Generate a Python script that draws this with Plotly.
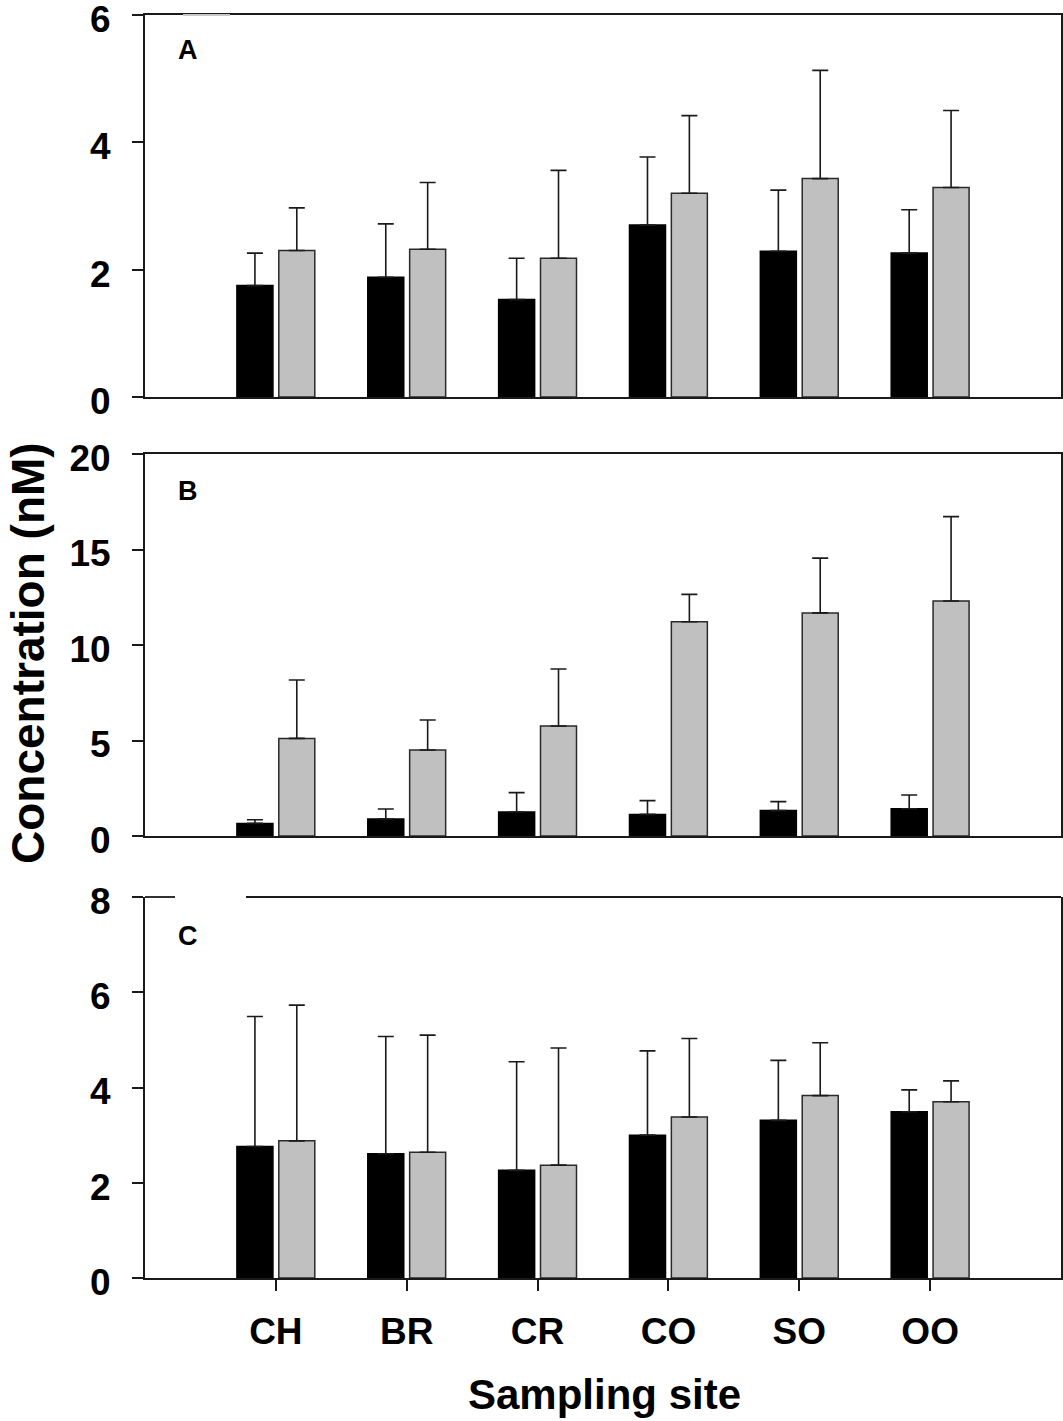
import plotly.graph_objects as go

sites = ["CH", "BR", "CR", "CO", "SO", "OO"]

# Panel A
a_black = [1.75, 1.88, 1.53, 2.70, 2.29, 2.26]
a_black_sd = [0.51, 0.84, 0.65, 1.07, 0.96, 0.68]
a_gray = [2.30, 2.32, 2.18, 3.20, 3.43, 3.29]
a_gray_sd = [0.67, 1.05, 1.38, 1.22, 1.70, 1.21]

# Panel B
b_black = [0.66, 0.89, 1.26, 1.13, 1.33, 1.43]
b_black_sd = [0.19, 0.52, 1.01, 0.72, 0.47, 0.72]
b_gray = [5.11, 4.50, 5.76, 11.22, 11.68, 12.30]
b_gray_sd = [3.06, 1.57, 2.98, 1.43, 2.87, 4.42]

# Panel C
c_black = [2.76, 2.61, 2.26, 3.00, 3.31, 3.49]
c_black_sd = [2.73, 2.46, 2.28, 1.77, 1.26, 0.46]
c_gray = [2.88, 2.64, 2.37, 3.38, 3.83, 3.70]
c_gray_sd = [2.85, 2.46, 2.46, 1.65, 1.11, 0.44]

panel_labels = ["A", "B", "C"]
y_ranges = [[0, 6], [0, 20], [0, 8]]
y_ticks = [[0, 2, 4, 6], [0, 5, 10, 15, 20], [0, 2, 4, 6, 8]]

FONT = "Liberation Sans, Arial, Helvetica, sans-serif"
AX = "#1a1a1a"
GRAY = "#c0c0c0"

fig = go.Figure()

panels = [
    (a_black, a_black_sd, a_gray, a_gray_sd),
    (b_black, b_black_sd, b_gray, b_gray_sd),
    (c_black, c_black_sd, c_gray, c_gray_sd),
]

for i, (bk, bks, gr, grs) in enumerate(panels):
    xa = "x" if i == 0 else f"x{i+1}"
    ya = "y" if i == 0 else f"y{i+1}"
    fig.add_trace(go.Bar(
        x=sites, y=bk, xaxis=xa, yaxis=ya, showlegend=False,
        marker=dict(color="black", line=dict(color="black", width=1.5)),
        error_y=dict(type="data", array=bks, arrayminus=[0] * len(bks), symmetric=False,
                     color=AX, thickness=1.6, width=8),
        offsetgroup="black",
    ))
    fig.add_trace(go.Bar(
        x=sites, y=gr, xaxis=xa, yaxis=ya, showlegend=False,
        marker=dict(color=GRAY, line=dict(color="#2a2a2a", width=1.5)),
        error_y=dict(type="data", array=grs, arrayminus=[0] * len(grs), symmetric=False,
                     color=AX, thickness=1.6, width=8),
        offsetgroup="gray",
    ))

# layout geometry
W, H = 1063, 1421
ml, mr, mt, mb = 145, 2, 15, 143
plot_h = H - mt - mb
pw = W - ml - mr


def py(pix):
    return (H - mb - pix) / plot_h


domains = [[py(397), py(15)], [py(836), py(454)], [py(1278), py(897)]]

layout = dict(
    width=W, height=H,
    margin=dict(l=ml, r=mr, t=mt, b=mb, autoexpand=False),
    plot_bgcolor="white", paper_bgcolor="white",
    barmode="group", bargap=0.36, bargroupgap=0.14,
    font=dict(family=FONT, color="black", size=37, weight="bold"),
)

for i in range(3):
    xk = "xaxis" if i == 0 else f"xaxis{i+1}"
    yk = "yaxis" if i == 0 else f"yaxis{i+1}"
    ya = "y" if i == 0 else f"y{i+1}"
    xa = "x" if i == 0 else f"x{i+1}"
    last = (i == 2)
    layout[xk] = dict(
        type="category", categoryorder="array", categoryarray=sites,
        range=[-1, 6], domain=[0, 1], anchor=ya, automargin=False,
        showline=True, linecolor=AX, linewidth=1.8, mirror=(not last),
        ticks="outside" if last else "", ticklen=11, tickwidth=1.6, tickcolor=AX,
        showticklabels=last, showgrid=False, zeroline=False,
        tickfont=dict(size=37, family=FONT, weight="bold"),
        ticklabelstandoff=9,
        fixedrange=True,
    )
    if i > 0:
        layout[xk]["matches"] = "x"
    layout[yk] = dict(
        domain=domains[i], range=y_ranges[i], anchor=xa, automargin=False,
        tickmode="array", tickvals=y_ticks[i], ticktext=[str(t) for t in y_ticks[i]],
        showline=True, linecolor=AX, linewidth=1.8, mirror=True,
        ticks="outside", ticklen=11, tickwidth=1.6, tickcolor=AX,
        showgrid=False, zeroline=False,
        tickfont=dict(size=37, family=FONT, weight="bold"),
        ticklabelstandoff=14, ticklabelshift=4, ticklabeloverflow="allow",
        fixedrange=True,
    )

fig.update_layout(**layout)

# panel letters
label_y = [0.908, 0.904, 0.898]
for i, lab in enumerate(panel_labels):
    xa = "x" if i == 0 else f"x{i+1}"
    ya = "y" if i == 0 else f"y{i+1}"
    fig.add_annotation(
        text=lab, xref=f"{xa} domain", yref=f"{ya} domain",
        x=(176 - ml) / pw, y=label_y[i], xanchor="left", yanchor="middle",
        showarrow=False, font=dict(size=27, family=FONT, weight="bold", color="black"),
    )

# axis titles
fig.add_annotation(
    text="Concentration (nM)", xref="paper", yref="paper",
    x=(0 - ml) / pw, y=py(653), xanchor="left", yanchor="middle",
    textangle=-90, showarrow=False,
    font=dict(size=46, family=FONT, weight="bold", color="black"),
)
fig.add_annotation(
    text="Sampling site", xref="paper", yref="paper",
    x=(604 - ml) / pw, y=py(1394), xanchor="center", yanchor="middle",
    showarrow=False,
    font=dict(size=42, family=FONT, weight="bold", color="black"),
)

# panel C top border with a gap; panel A top border light segment
fig.add_shape(type="line", xref="x3 domain", yref="y3 domain",
              x0=0, x1=(175 - ml) / pw, y0=1, y1=1, line=dict(color=AX, width=1.8))
fig.add_shape(type="line", xref="x3 domain", yref="y3 domain",
              x0=(246 - ml) / pw, x1=1, y0=1, y1=1, line=dict(color=AX, width=1.8))
fig.add_shape(type="line", xref="x domain", yref="y domain",
              x0=(183 - ml) / pw, x1=(230 - ml) / pw, y0=1, y1=1,
              line=dict(color="#c8c8c8", width=2.2))

fig.write_html(
    "out.html",
    config={"displayModeBar": False},
    post_script="document.body.style.margin='0px';document.body.style.padding='0px';",
)
